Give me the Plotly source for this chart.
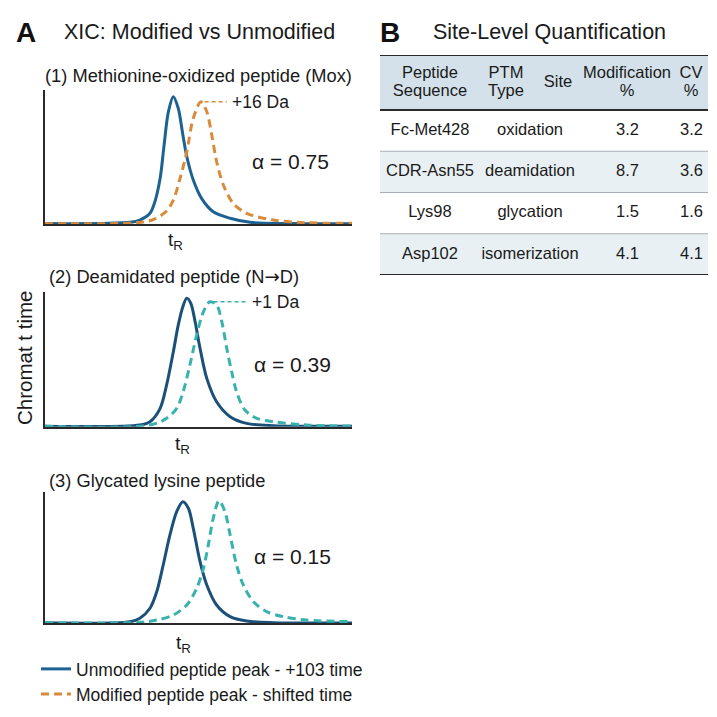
import plotly.graph_objects as go

# ---------------- DATA ----------------
# Panel 1: methionine oxidation (retention time in arbitrary units, normalised intensity)
t_unmod_1 = [0, 27.7, 30.9, 34.2, 35.8, 37.5, 38.8, 40.2, 41.8, 43.4, 44.9, 46.2, 48.3, 51.0, 54.8, 60.3, 66.8, 79.8, 100]
i_unmod_1 = [0.003, 0.013, 0.031, 0.084, 0.175, 0.358, 0.62, 0.88, 0.998, 0.907, 0.70, 0.527, 0.345, 0.201, 0.096, 0.045, 0.013, 0.004, 0.002]
t_mod_1 = [0, 24.4, 31.9, 35.8, 39.6, 41.8, 44.0, 46.2, 48.3, 50.8, 52.7, 54.3, 55.9, 58.1, 61.3, 65.7, 74.4, 85.2, 100]
i_mod_1 = [0.003, 0.004, 0.015, 0.04, 0.102, 0.188, 0.358, 0.567, 0.828, 0.958, 0.88, 0.70, 0.49, 0.306, 0.162, 0.084, 0.031, 0.01, 0.005]

# Panel 2: deamidation
t_unmod_2 = [0, 30.9, 34.2, 37.5, 39.6, 41.8, 43.4, 44.9, 46.2, 47.5, 48.9, 50.5, 52.7, 55.9, 60.3, 65.7, 74.4, 100]
i_unmod_2 = [0.004, 0.013, 0.039, 0.143, 0.324, 0.583, 0.79, 0.933, 1.0, 0.96, 0.816, 0.61, 0.376, 0.194, 0.078, 0.026, 0.008, 0.003]
t_mod_2 = [0, 34.2, 39.6, 42.9, 45.0, 47.2, 49.4, 51.6, 53.7, 55.9, 57.6, 59.2, 60.8, 62.4, 65.1, 69.0, 74.4, 85.2, 100]
i_mod_2 = [0.004, 0.013, 0.065, 0.143, 0.272, 0.48, 0.713, 0.894, 0.972, 0.946, 0.816, 0.61, 0.428, 0.272, 0.13, 0.065, 0.039, 0.013, 0.005]

# Panel 3: glycation
t_unmod_3 = [0, 27.7, 30.9, 34.2, 36.4, 38.5, 40.7, 42.9, 44.9, 46.7, 48.3, 50.5, 52.7, 55.9, 60.3, 65.7, 74.4, 100]
i_unmod_3 = [0.004, 0.013, 0.04, 0.12, 0.252, 0.465, 0.705, 0.891, 0.97, 0.918, 0.758, 0.492, 0.306, 0.146, 0.053, 0.018, 0.005, 0.002]
t_mod_3 = [0, 30.9, 36.4, 41.8, 46.2, 49.4, 51.6, 53.2, 54.8, 56.7, 58.6, 60.3, 62.4, 64.6, 67.9, 72.2, 77.6, 85.2, 100]
i_mod_3 = [0.004, 0.008, 0.026, 0.066, 0.146, 0.279, 0.439, 0.625, 0.838, 0.978, 0.891, 0.705, 0.465, 0.306, 0.172, 0.093, 0.053, 0.026, 0.013]

panel_titles = ["(1) Methionine-oxidized peptide (Mox)",
                "(2) Deamidated peptide (N\u2192D)",
                "(3) Glycated lysine peptide"]
alpha_values = [0.75, 0.39, 0.15]
mass_shifts = ["+16 Da", "+1 Da", None]
legend_names = ["Unmodified peptide peak - +103 time", "Modified peptide peak - shifted time"]

# Table B
table_headers = ["Peptide<br>Sequence", "PTM<br>Type", "Site", "Modification<br>%", "CV<br>%"]
peptides = ["Fc-Met428", "CDR-Asn55", "Lys98", "Asp102"]
ptm_types = ["oxidation", "deamidation", "glycation", "isomerization"]
mod_pct = [3.2, 8.7, 1.5, 4.1]
cv_pct = [3.2, 3.6, 1.6, 4.1]

# ---------------- STYLE / LAYOUT ----------------
W = H = 717
FONT = "Liberation Sans, Arial, sans-serif"
TXT = "#1a1a1a"
BLUE1 = "#1e6291"
BLUE = "#1b5079"
ORANGE = "#d98a3a"
TEAL = "#38b2ad"
AXC = "#2a2a2a"

def px_x(p):
    return p / W

def px_y(p):
    return 1 - p / H

def fmt_title(s):
    # render the arrow glyph with a font that carries it at full size
    return s.replace("\u2192", "<span style='font-family:DejaVu Sans'>\u2192</span>")

fig = go.Figure()

# panel geometry in pixels: (top, bottom)
panels = [(90, 224), (291.7, 426.7), (491.7, 623.3)]
curves = [(t_unmod_1, i_unmod_1, t_mod_1, i_mod_1, BLUE1, ORANGE),
          (t_unmod_2, i_unmod_2, t_mod_2, i_mod_2, BLUE, TEAL),
          (t_unmod_3, i_unmod_3, t_mod_3, i_mod_3, BLUE, TEAL)]
leader_len = [7.2, 11.0, 0]
alpha_pos = [(80.1, 0.49), (80.6, 0.48), (80.6, 0.53)]
title_pos = [(43, 75), (47, 277), (47, 480)]
tr_pos = [(175, 241), (182, 445), (183, 644)]

annotations = []
shapes = []

for k, ((top, bot), (tu, iu, tm, im, cu, cm)) in enumerate(zip(panels, curves)):
    xa = "x" if k == 0 else f"x{k+1}"
    ya = "y" if k == 0 else f"y{k+1}"
    fig.add_trace(go.Scatter(
        x=tu, y=iu, mode="lines", xaxis=xa, yaxis=ya,
        line=dict(color=cu, width=3, shape="spline", smoothing=0.9),
        name=legend_names[0], showlegend=(k == 0), legend="legend",
        hoverinfo="skip"))
    fig.add_trace(go.Scatter(
        x=tm, y=im, mode="lines", xaxis=xa, yaxis=ya,
        line=dict(color=cm, width=3, shape="spline", smoothing=0.9, dash="8px,5px"),
        name=legend_names[1], showlegend=(k == 0), legend="legend2",
        hoverinfo="skip"))
    axkey = "xaxis" if k == 0 else f"xaxis{k+1}"
    aykey = "yaxis" if k == 0 else f"yaxis{k+1}"
    fig.layout[axkey] = dict(domain=[px_x(45), px_x(352)], range=[0, 100], anchor=ya,
                             showline=True, linecolor=AXC, linewidth=1.6,
                             showgrid=False, zeroline=False, showticklabels=False, ticks="")
    fig.layout[aykey] = dict(domain=[px_y(bot), px_y(top)], range=[0, 1.05], anchor=xa,
                             showline=True, linecolor=AXC, linewidth=1.6,
                             showgrid=False, zeroline=False, showticklabels=False, ticks="")
    # mass-shift leader and label, anchored at the modified peak apex
    if mass_shifts[k]:
        j = im.index(max(im))
        xa0, ya0 = tm[j], im[j]
        shapes.append(dict(type="line", xref=xa, yref=ya, x0=xa0 + 1.2, x1=xa0 + 1.2 + leader_len[k],
                           y0=ya0, y1=ya0, line=dict(color=cm, width=1.5, dash="4px,3px")))
        annotations.append(dict(xref=xa, yref=ya, x=xa0 + 2.2 + leader_len[k], y=ya0,
                                text=mass_shifts[k], showarrow=False, xanchor="left", yanchor="middle",
                                font=dict(family=FONT, size=17.5, color=TXT)))
    ax_, ay_ = alpha_pos[k]
    annotations.append(dict(xref=xa, yref=ya, x=ax_, y=ay_, text=f"\u03b1 = {alpha_values[k]:.2f}",
                            showarrow=False, xanchor="center", yanchor="middle",
                            font=dict(family=FONT, size=21, color=TXT)))
    tx, ty = title_pos[k]
    annotations.append(dict(xref="paper", yref="paper", x=px_x(tx), y=px_y(ty), text=fmt_title(panel_titles[k]),
                            showarrow=False, xanchor="left", yanchor="middle",
                            font=dict(family=FONT, size=18.3, color=TXT)))
    rx, ry = tr_pos[k]
    annotations.append(dict(xref="paper", yref="paper", x=px_x(rx), y=px_y(ry), text="t<sub>R</sub>",
                            showarrow=False, xanchor="center", yanchor="middle",
                            font=dict(family=FONT, size=19, color=TXT)))

# y axis label
annotations.append(dict(xref="paper", yref="paper", x=px_x(24), y=px_y(358), text="Chromat t time",
                        textangle=-90, showarrow=False, xanchor="center", yanchor="middle",
                        font=dict(family=FONT, size=20.5, color=TXT)))
# Panel headings
annotations.append(dict(xref="paper", yref="paper", x=px_x(14), y=px_y(32), text="<b>A</b>",
                        showarrow=False, xanchor="left", yanchor="middle",
                        font=dict(family=FONT, size=28, color="#111")))
annotations.append(dict(xref="paper", yref="paper", x=px_x(62), y=px_y(32), text="XIC: Modified vs Unmodified",
                        showarrow=False, xanchor="left", yanchor="middle",
                        font=dict(family=FONT, size=21.5, color=TXT)))
annotations.append(dict(xref="paper", yref="paper", x=px_x(378), y=px_y(32), text="<b>B</b>",
                        showarrow=False, xanchor="left", yanchor="middle",
                        font=dict(family=FONT, size=28, color="#111")))
annotations.append(dict(xref="paper", yref="paper", x=px_x(431), y=px_y(32), text="Site-Level Quantification",
                        showarrow=False, xanchor="left", yanchor="middle",
                        font=dict(family=FONT, size=21.5, color=TXT)))

# ---------------- TABLE (axis x4/y4 in pixel-like units) ----------------
TX0, TX1, TY0, TY1 = 380, 708, 55, 275
fig.layout["xaxis4"] = dict(domain=[px_x(TX0), px_x(TX1)], range=[TX0, TX1], anchor="y4", visible=False)
fig.layout["yaxis4"] = dict(domain=[px_y(TY1), px_y(TY0)], range=[TY1, TY0], anchor="x4", visible=False)
HEAD_BOT = 110
n_rows = len(peptides)
row_h = (TY1 - HEAD_BOT) / n_rows
HEAD_BG = "#d4e1ea"
ALT_BG = "#e9f0f4"

shapes.append(dict(type="rect", xref="x4", yref="y4", x0=TX0, x1=TX1, y0=TY0, y1=HEAD_BOT,
                   fillcolor=HEAD_BG, line=dict(width=0), layer="below"))
for r in range(n_rows):
    y0 = HEAD_BOT + r * row_h
    if r % 2 == 1:
        shapes.append(dict(type="rect", xref="x4", yref="y4", x0=TX0, x1=TX1, y0=y0, y1=y0 + row_h,
                           fillcolor=ALT_BG, line=dict(width=0), layer="below"))
    if r > 0:
        shapes.append(dict(type="line", xref="x4", yref="y4", x0=TX0, x1=TX1, y0=y0, y1=y0,
                           line=dict(color="#a9b0b5", width=1.2)))
for yy in (TY0, HEAD_BOT, TY1):
    shapes.append(dict(type="line", xref="x4", yref="y4", x0=TX0, x1=TX1, y0=yy, y1=yy,
                       line=dict(color="#2b2b2b", width=2)))

head_x = [430, 506, 558, 627, 691]
hx, hy, ht = [], [], []
for h, x in zip(table_headers, head_x):
    parts = h.split("<br>")
    if len(parts) == 1:
        hx.append(x); hy.append((TY0 + HEAD_BOT) / 2); ht.append(parts[0])
    else:
        hx += [x, x]; hy += [73.5, 92]; ht += parts
tfont = dict(family=FONT, size=16.5, color=TXT)
fig.add_trace(go.Scatter(x=hx, y=hy, text=ht, mode="text", textposition="middle center",
                         textfont=tfont, xaxis="x4", yaxis="y4", showlegend=False, hoverinfo="skip"))
row_c = [HEAD_BOT + (r + 0.5) * row_h for r in range(n_rows)]
fig.add_trace(go.Scatter(x=[430] * n_rows, y=row_c, text=peptides, mode="text", textposition="middle center",
                         textfont=tfont, xaxis="x4", yaxis="y4", showlegend=False, hoverinfo="skip"))
fig.add_trace(go.Scatter(x=[530] * n_rows, y=row_c, text=ptm_types, mode="text", textposition="middle center",
                         textfont=tfont, xaxis="x4", yaxis="y4", showlegend=False, hoverinfo="skip"))
fig.add_trace(go.Scatter(x=[639] * n_rows, y=row_c, text=[f"{v:.1f}" for v in mod_pct], mode="text",
                         textposition="middle left", textfont=tfont, xaxis="x4", yaxis="y4",
                         showlegend=False, hoverinfo="skip"))
fig.add_trace(go.Scatter(x=[703] * n_rows, y=row_c, text=[f"{v:.1f}" for v in cv_pct], mode="text",
                         textposition="middle left", textfont=tfont, xaxis="x4", yaxis="y4",
                         showlegend=False, hoverinfo="skip"))

legend_common = dict(xanchor="left", yanchor="middle", bgcolor="rgba(0,0,0,0)", borderwidth=0,
                     font=dict(family=FONT, size=17.5, color=TXT), itemwidth=30)
fig.update_layout(
    width=W, height=H, margin=dict(l=0, r=0, t=0, b=0),
    paper_bgcolor="white", plot_bgcolor="white",
    annotations=annotations, shapes=shapes,
    legend=dict(x=px_x(36), y=px_y(669), **legend_common),
    legend2=dict(x=px_x(36), y=px_y(694), **legend_common),
)

fig.write_html("out.html")
